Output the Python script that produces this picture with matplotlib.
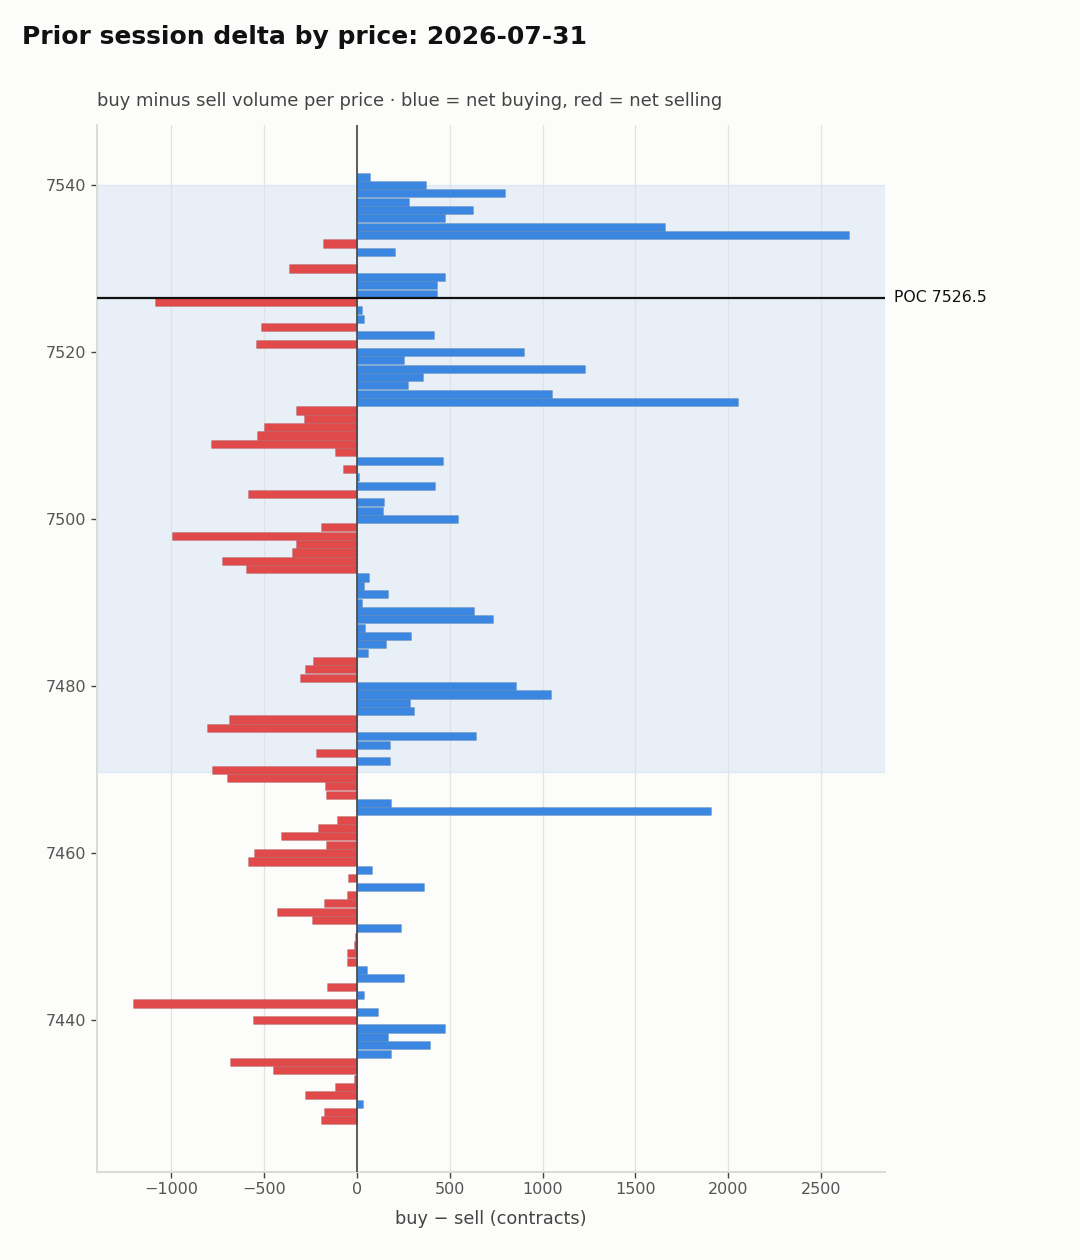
import numpy as np
import matplotlib
matplotlib.use("Agg")
import matplotlib.pyplot as plt
import matplotlib.transforms as mtransforms

plt.rcParams.update({
    "figure.facecolor": "#fcfcfa",
    "axes.facecolor": "#fcfcfa",
    "font.family": "DejaVu Sans",
    "axes.edgecolor": "#dcdcd6",
    "xtick.color": "#444444",
    "ytick.color": "#444444",
    "xtick.labelcolor": "#555555",
    "ytick.labelcolor": "#555555",
})

BLUE = "#3a86e0"
RED = "#e04a4a"

SESSION = "2026-07-31"
PRICE_TOP = 7541
PRICE_BOTTOM = 7428
POC = 7526.5
VAH = 7540.0
VAL = 7469.75

# net delta per 1-point price level, top (7541) to bottom (7428)
delta = [
    68, 370, 796, 278, 623, 472, 1660, 2651, -182, 204,          # 7541-7532
    0, -367, 472, 429, 429, -1089, 25, 37, -515, 414,            # 7531-7522
    -546, 901, 253, 1231, 358, 275, 1052, 2052, -327, -284,      # 7521-7512
    -503, -540, -787, -120, 463, -77, 9, 420, -589, 148,         # 7511-7502
    139, 546, -191, -997, -330, -349, -728, -599, 65, 37,        # 7501-7492
    167, 25, 630, 734, 43, 290, 154, 59, -235, -278,             # 7491-7482
    -306, 855, 1043, 284, 306, -691, -805, 639, 176, -219,       # 7481-7472
    176, -778, -697, -170, -164, 182, 1907, -105, -207, -410,    # 7471-7462
    -164, -555, -589, 80, -46, 364, -56, -176, -429, -241,       # 7461-7452
    235, -9, -18, -52, -56, 52, 253, -160, 37, -1207,            # 7451-7442
    111, -562, 472, 170, 392, 182, -685, -454, -15, -117,        # 7441-7432
    -278, 31, -176, -191,                                        # 7431-7428
]

prices = np.arange(PRICE_TOP, PRICE_BOTTOM - 1, -1)
delta = np.array(delta)
colors = [BLUE if d >= 0 else RED for d in delta]

fig = plt.figure(figsize=(10.8, 12.6), dpi=100)
ax = fig.add_axes([0.0898, 0.0698, 0.7296, 0.831])

ax.axhspan(VAL, VAH, color=BLUE, alpha=0.1, zorder=0)
ax.barh(prices, delta, height=0.97, color=colors, edgecolor=(0.2, 0.2, 0.2, 0.18),
        linewidth=0.5, zorder=2)
ax.axvline(0, color="#444444", linewidth=1.2, zorder=3)
ax.axhline(POC, color="#111111", linewidth=1.6, zorder=4)

trans = mtransforms.blended_transform_factory(ax.transAxes, ax.transData)
ax.text(1.011, POC, f"POC {POC}", transform=trans, va="center", ha="left",
        fontsize=11.3, color="#111111")

ax.grid(axis="x", color="#e2e2e2", linewidth=0.9, zorder=0)
ax.set_axisbelow(True)
for s in ("top", "right"):
    ax.spines[s].set_visible(False)
for s in ("left", "bottom"):
    ax.spines[s].set_linewidth(1.4)

ax.set_yticks([7440, 7460, 7480, 7500, 7520, 7540])
ax.set_xticks([-1000, -500, 0, 500, 1000, 1500, 2000, 2500])
ax.tick_params(axis="both", labelsize=11.5, length=4, width=1)
ax.set_xticklabels(["\u22121000", "\u2212500", "0", "500", "1000", "1500", "2000", "2500"])
ax.set_xlabel("buy \u2212 sell (contracts)", fontsize=12.8, color="#444444", labelpad=9)

ax.set_title("buy minus sell volume per price \u00b7 blue = net buying, red = net selling",
             loc="left", fontsize=12.9, color="#444444", pad=14)
fig.text(0.0204, 0.971, f"Prior session delta by price: {SESSION}", fontsize=18,
         fontweight="bold", color="#111111", ha="left", va="center")

fig.savefig("out.png", dpi=100, facecolor=fig.get_facecolor())
